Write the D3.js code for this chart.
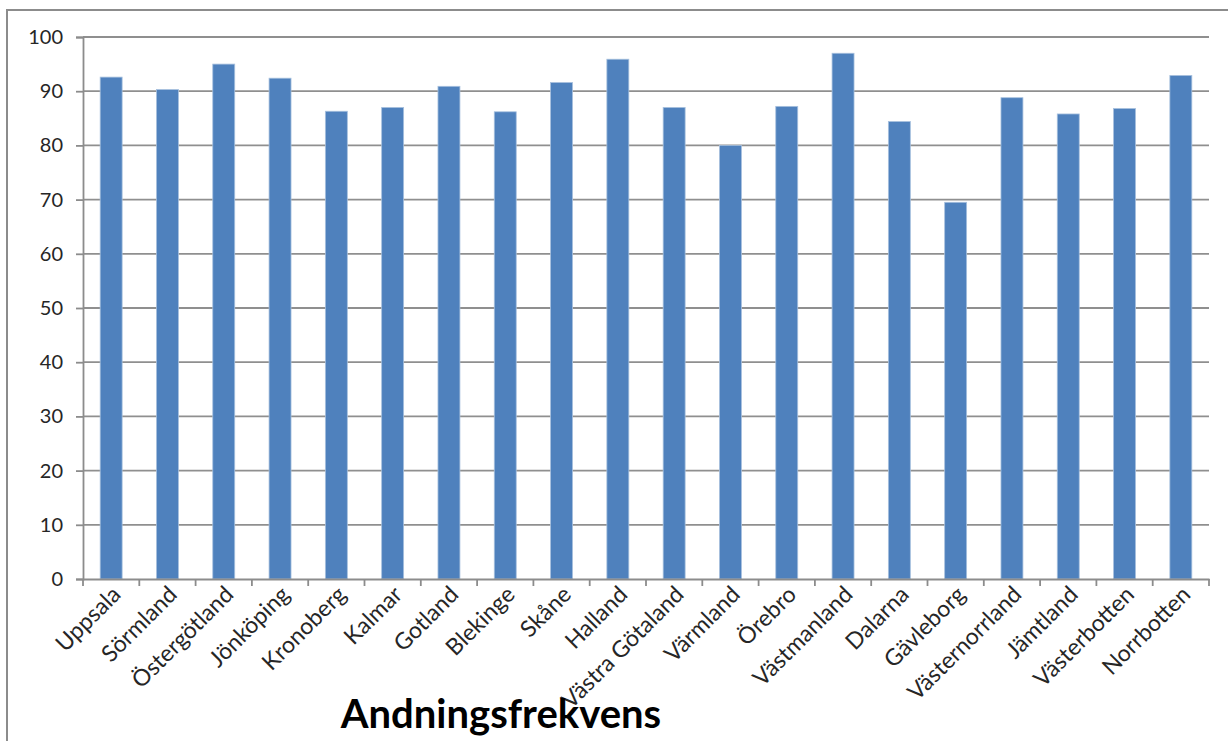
<html>
  <head>
    <meta charset="utf-8">
    <style>
      body { margin: 0; background: #fff; }
      text { font-family: Lato, "Open Sans", sans-serif; fill: #262626; }
    </style>
  </head>
  <body>
    <script src="https://d3js.org/d3.v7.min.js"></script>
    <script>
    var width = 1228, height = 741;

    // regions and values
    var regions = ["Uppsala", "Sörmland", "Östergötland", "Jönköping", "Kronoberg", "Kalmar",
      "Gotland", "Blekinge", "Skåne", "Halland", "Västra Götaland", "Värmland", "Örebro",
      "Västmanland", "Dalarna", "Gävleborg", "Västernorrland", "Jämtland", "Västerbotten", "Norrbotten"];
    var values = [92.6, 90.3, 95.0, 92.4, 86.3, 87.0, 90.9, 86.2, 91.6, 95.9,
      87.0, 80.0, 87.2, 97.0, 84.4, 69.5, 88.8, 85.8, 86.8, 92.9];
    var yTicks = [0, 10, 20, 30, 40, 50, 60, 70, 80, 90, 100];
    var title = "Andningsfrekvens";

    var data = regions.map(function(r, i){ return {region: r, value: values[i]}; });

    var svg = d3.select("body")
        .append("svg")
        .attr("width", width)
        .attr("height", height);

    // chart frame
    svg.append("rect")
        .attr("x", 7).attr("y", 10)
        .attr("width", 1260).attr("height", 780)
        .attr("fill", "none")
        .attr("stroke", "#8c8c8c")
        .attr("stroke-width", 2);

    var plotLeft = 83, plotRight = 1209, plotTop = 37, plotBottom = 579;

    var x = d3.scaleBand()
        .domain(regions)
        .range([plotLeft, plotRight])
        .paddingInner(0.61)
        .paddingOuter(0.305);

    var y = d3.scaleLinear()
        .domain([0, 100])
        .range([plotBottom, plotTop]);

    // gridlines
    svg.append("g")
      .selectAll("line")
      .data(yTicks.filter(function(d){ return d > 0; }))
      .enter().append("line")
        .attr("x1", plotLeft).attr("x2", plotRight)
        .attr("y1", function(d){ return y(d); })
        .attr("y2", function(d){ return y(d); })
        .attr("stroke", "#8f8f8f")
        .attr("stroke-width", 1.8);

    // bars
    svg.append("g")
      .selectAll("rect")
      .data(data)
      .enter().append("rect")
        .attr("x", function(d){ return x(d.region); })
        .attr("y", function(d){ return y(d.value); })
        .attr("width", x.bandwidth())
        .attr("height", function(d){ return y(0) - y(d.value); })
        .attr("fill", "#4f81bd")
        .attr("stroke", "#a7c0de")
        .attr("stroke-width", 0.8);

    // y axis
    var yAxis = svg.append("g")
        .attr("transform", "translate(" + plotLeft + ",0)")
        .call(d3.axisLeft(y).tickValues(yTicks).tickSize(7).tickPadding(13));
    yAxis.select(".domain").attr("stroke", "#8c8c8c").attr("stroke-width", 1.8);
    yAxis.selectAll(".tick line").attr("stroke", "#8c8c8c").attr("stroke-width", 1.8);
    yAxis.selectAll("text")
        .style("font-size", "20px")
        .style("font-family", "Lato, sans-serif")
        .attr("fill", "#1f1f1f");

    // x axis with labels rotated
    var xAxis = svg.append("g")
        .attr("transform", "translate(0," + plotBottom + ")")
        .call(d3.axisBottom(x).tickSize(0).tickSizeOuter(0));
    xAxis.select(".domain").attr("stroke", "#8c8c8c").attr("stroke-width", 1.8);
    xAxis.selectAll("text")
        .attr("x", 0).attr("y", 0).attr("dy", 0)
        .attr("text-anchor", "end")
        .attr("transform", "translate(11,17) rotate(-45)")
        .style("font-size", "23px")
        .style("font-family", "Lato, sans-serif")
        .attr("fill", "#1f1f1f");

    // tick marks between categories
    svg.append("g")
      .selectAll("line")
      .data(d3.range(regions.length + 1))
      .enter().append("line")
        .attr("x1", function(i){ return plotLeft + i * x.step(); })
        .attr("x2", function(i){ return plotLeft + i * x.step(); })
        .attr("y1", plotBottom)
        .attr("y2", plotBottom + 7)
        .attr("stroke", "#8c8c8c")
        .attr("stroke-width", 1.8);

    // title under the chart
    svg.append("text")
        .attr("x", 501)
        .attr("y", 728)
        .attr("text-anchor", "middle")
        .style("font-size", "40px")
        .style("font-weight", "bold")
        .style("fill", "#000")
        .text(title);
    </script>
  </body>
</html>
